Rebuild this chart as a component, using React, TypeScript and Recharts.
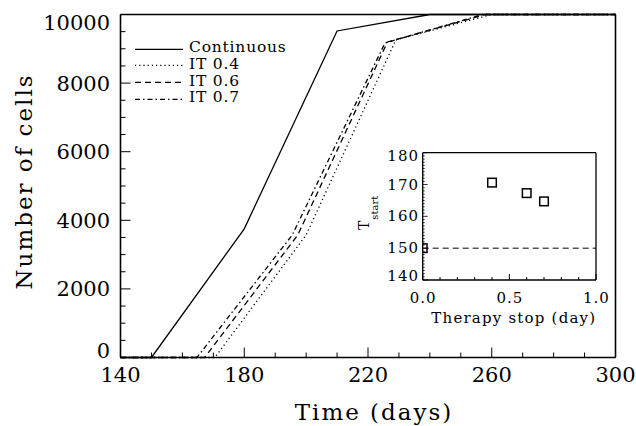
import React from "react";
import {
  LineChart,
  Line,
  XAxis,
  YAxis,
  Legend,
  Label,
  ScatterChart,
  Scatter,
  ReferenceLine,
} from "recharts";

const FONT = "'DejaVu Serif', serif";
const INK = "#000";

// main panel: number of cells vs time (days)
const CONTINUOUS = [
  { t: 140, n: 0 },
  { t: 150, n: 0 },
  { t: 180, n: 3750 },
  { t: 210, n: 9520 },
  { t: 240, n: 10000 },
  { t: 300, n: 10000 },
];
const IT_04 = [
  { t: 140, n: 0 },
  { t: 170.5, n: 0 },
  { t: 200, n: 3570 },
  { t: 229, n: 9260 },
  { t: 260, n: 10000 },
  { t: 300, n: 10000 },
];
const IT_06 = [
  { t: 140, n: 0 },
  { t: 167.2, n: 0 },
  { t: 197.3, n: 3570 },
  { t: 226.3, n: 9200 },
  { t: 258, n: 10000 },
  { t: 300, n: 10000 },
];
const IT_07 = [
  { t: 140, n: 0 },
  { t: 164.7, n: 0 },
  { t: 195.5, n: 3570 },
  { t: 225.5, n: 9170 },
  { t: 257, n: 10000 },
  { t: 300, n: 10000 },
];

const SERIES = [
  { name: "Continuous", data: CONTINUOUS, dash: undefined as string | undefined },
  { name: "IT 0.4", data: IT_04, dash: "1.2 3" },
  { name: "IT 0.6", data: IT_06, dash: "6 4" },
  { name: "IT 0.7", data: IT_07, dash: "5 3 1.5 3" },
];

const X_TICKS = [140, 150, 160, 170, 180, 190, 200, 210, 220, 230, 240, 250, 260, 270, 280, 290, 300];
const X_MAJOR = [140, 180, 220, 260, 300];
const Y_TICKS = [
  0, 500, 1000, 1500, 2000, 2500, 3000, 3500, 4000, 4500, 5000, 5500, 6000, 6500, 7000, 7500, 8000,
  8500, 9000, 9500, 10000,
];
const Y_MAJOR = [0, 2000, 4000, 6000, 8000, 10000];

// inset: start time vs therapy stop
const INSET_STOP = [0, 0.4, 0.6, 0.7];
const INSET_TSTART = [150, 170.6, 167.3, 164.7];
const CONTINUOUS_START = 150;
const INSET_X_TICKS = [0, 0.1, 0.2, 0.3, 0.4, 0.5, 0.6, 0.7, 0.8, 0.9, 1.0];
const INSET_X_LABELS = ["0.0", "0.5", "1.0"];
const INSET_Y_TICKS = Array.from({ length: 41 }, (_, i) => 140 + i);
const INSET_Y_MAJOR = [140, 150, 160, 170, 180];

const insetPoints = INSET_STOP.map((s, i) => ({ stop: s, tstart: INSET_TSTART[i] }));

const axisLine = { stroke: INK, strokeWidth: 1.6 };

const BottomTick = (p: any) => {
  const v = p.payload.value;
  const major = X_MAJOR.includes(v);
  return (
    <g>
      <line x1={p.x} x2={p.x} y1={p.y} y2={p.y - (major ? 10 : 5)} stroke={INK} strokeWidth={1} />
      {major && (
        <text x={p.x} y={p.y + 24.5} textAnchor="middle" fontSize={21} fontFamily={FONT} fill={INK}>
          {v}
        </text>
      )}
    </g>
  );
};

const TopTick = (p: any) => {
  const major = X_MAJOR.includes(p.payload.value);
  return <line x1={p.x} x2={p.x} y1={p.y} y2={p.y + (major ? 10 : 5)} stroke={INK} strokeWidth={1} />;
};

const LeftTick = (p: any) => {
  const v = p.payload.value;
  const major = Y_MAJOR.includes(v);
  const shift = v === 0 ? -7.5 : v === 10000 ? 8 : 0;
  return (
    <g>
      <line x1={p.x} x2={p.x + (major ? 10 : 5)} y1={p.y} y2={p.y} stroke={INK} strokeWidth={1} />
      {major && (
        <text x={p.x - 10.5} y={p.y + 7.5 + shift} textAnchor="end" fontSize={21} fontFamily={FONT} fill={INK}>
          {v}
        </text>
      )}
    </g>
  );
};

const RightTick = (p: any) => {
  const major = Y_MAJOR.includes(p.payload.value);
  return <line x1={p.x} x2={p.x - (major ? 10 : 5)} y1={p.y} y2={p.y} stroke={INK} strokeWidth={1} />;
};

const isHalf = (v: number) => Math.abs(v * 2 - Math.round(v * 2)) < 1e-6;

const InsetBottomTick = (p: any) => {
  const v = p.payload.value;
  const major = isHalf(v);
  return (
    <g>
      <line x1={p.x} x2={p.x} y1={p.y} y2={p.y - (major ? 6 : 3)} stroke={INK} strokeWidth={1} />
      {major && (
        <text
          x={p.x + 0.5}
          y={p.y + 23}
          textAnchor="middle"
          fontSize={15}
          letterSpacing={1}
          fontFamily={FONT}
          fill={INK}
        >
          {INSET_X_LABELS[Math.round(v * 2)]}
        </text>
      )}
    </g>
  );
};

const InsetTopTick = (p: any) => {
  const major = isHalf(p.payload.value);
  return <line x1={p.x} x2={p.x} y1={p.y} y2={p.y + (major ? 6 : 3)} stroke={INK} strokeWidth={1} />;
};

const InsetLeftTick = (p: any) => {
  const v = p.payload.value;
  const major = INSET_Y_MAJOR.includes(v);
  const shift = v === 140 ? -4 : v === 180 ? 3 : 0;
  return (
    <g>
      <line x1={p.x} x2={p.x + (major ? 5 : 2)} y1={p.y} y2={p.y} stroke={INK} strokeWidth={0.8} />
      {major && (
        <text
          x={p.x - 3.7}
          y={p.y + 5 + shift}
          textAnchor="end"
          fontSize={15}
          letterSpacing={1}
          fontFamily={FONT}
          fill={INK}
        >
          {v}
        </text>
      )}
    </g>
  );
};

const InsetRightTick = (p: any) => {
  const major = INSET_Y_MAJOR.includes(p.payload.value);
  return <line x1={p.x} x2={p.x - (major ? 5 : 2)} y1={p.y} y2={p.y} stroke={INK} strokeWidth={0.8} />;
};

const Square = (p: any) => (
  <rect x={p.cx - 4.3} y={p.cy - 4.3} width={8.6} height={8.6} fill="none" stroke={INK} strokeWidth={1.5} />
);

const renderLegend = (props: any) => (
  <div style={{ fontFamily: FONT, fontSize: 15.5, letterSpacing: 0.8, color: INK }}>
    {(props.payload || []).map((entry: any) => {
      const s = SERIES.find((d) => d.name === entry.value);
      return (
        <div key={entry.value} style={{ display: "flex", alignItems: "center", height: 16.7 }}>
          <svg width={50} height={16.7} style={{ display: "block" }}>
            <line x1={2} x2={50} y1={8.35} y2={8.35} stroke={INK} strokeWidth={1.3} strokeDasharray={s?.dash} />
          </svg>
          <span style={{ marginLeft: 6, position: "relative", top: -1.5, whiteSpace: "nowrap", lineHeight: "16.7px" }}>
            {entry.value}
          </span>
        </div>
      );
    })}
  </div>
);

const XTitle = (p: any) => {
  const vb = p.viewBox;
  return (
    <text x={vb.x + vb.width / 2 + 6} y={vb.y + 62.5} textAnchor="middle" fontSize={23} letterSpacing={2} fontFamily={FONT} fill={INK}>
      Time (days)
    </text>
  );
};

const YTitle = (p: any) => {
  const vb = p.viewBox;
  const x = vb.x + vb.width - 88.8;
  const y = vb.y + vb.height / 2 - 4.5;
  return (
    <text x={x} y={y} transform={`rotate(-90 ${x} ${y})`} textAnchor="middle" fontSize={23} letterSpacing={2} fontFamily={FONT} fill={INK}>
      Number of cells
    </text>
  );
};

const InsetXTitle = (p: any) => {
  const vb = p.viewBox;
  return (
    <text x={vb.x + vb.width / 2 + 4.5} y={vb.y + 42.7} textAnchor="middle" fontSize={15} letterSpacing={1.2} fontFamily={FONT} fill={INK}>
      Therapy stop (day)
    </text>
  );
};

const InsetYTitle = (p: any) => {
  const vb = p.viewBox;
  const x = vb.x + vb.width - 53.4;
  const y = vb.y + 77.3;
  return (
    <text x={x} y={y} transform={`rotate(-90 ${x} ${y})`} textAnchor="start" fontFamily={FONT} fill={INK}>
      <tspan fontSize={14}>T</tspan>
      <tspan fontSize={10} dy={9} dx={1}>
        start
      </tspan>
    </text>
  );
};

export default function App() {
  return (
    <div style={{ position: "absolute", left: 0, top: 0, width: 636, height: 426, background: "#fff" }}>
      <LineChart width={636} height={426} margin={{ top: 13.5, right: 19.5, bottom: 67.5, left: 119.5 }}>
        <XAxis
          type="number"
          dataKey="t"
          domain={[140, 300]}
          ticks={X_TICKS}
          interval={0}
          height={1}
          tickSize={0}
          tickMargin={0}
          tickLine={false}
          axisLine={axisLine}
          tick={(p: any) => <BottomTick {...p} />}
          label={<Label content={XTitle} />}
        />
        <XAxis
          xAxisId="top"
          orientation="top"
          type="number"
          dataKey="t"
          domain={[140, 300]}
          ticks={X_TICKS}
          interval={0}
          height={1}
          tickSize={0}
          tickMargin={0}
          tickLine={false}
          axisLine={axisLine}
          tick={(p: any) => <TopTick {...p} />}
        />
        <YAxis
          type="number"
          domain={[0, 10000]}
          ticks={Y_TICKS}
          interval={0}
          width={1}
          tickSize={0}
          tickMargin={0}
          tickLine={false}
          axisLine={axisLine}
          tick={(p: any) => <LeftTick {...p} />}
          label={<Label content={YTitle} />}
        />
        <YAxis
          yAxisId="right"
          orientation="right"
          type="number"
          domain={[0, 10000]}
          ticks={Y_TICKS}
          interval={0}
          width={1}
          tickSize={0}
          tickMargin={0}
          tickLine={false}
          axisLine={axisLine}
          tick={(p: any) => <RightTick {...p} />}
        />
        <Legend
          layout="vertical"
          align="center"
          verticalAlign="middle"
          wrapperStyle={{ left: 133, top: 40.65, width: "auto" }}
          content={renderLegend}
        />
        {SERIES.map((s) => (
          <Line
            key={s.name}
            name={s.name}
            data={s.data}
            dataKey="n"
            type="linear"
            stroke={INK}
            strokeWidth={1.3}
            strokeDasharray={s.dash}
            dot={false}
            activeDot={false}
            isAnimationActive={false}
          />
        ))}
      </LineChart>

      <div style={{ position: "absolute", left: 350, top: 140 }}>
        <ScatterChart width={260} height={200} margin={{ top: 11.7, right: 13, bottom: 59, left: 71.7 }}>
          <XAxis
            type="number"
            dataKey="stop"
            domain={[0, 1]}
            allowDataOverflow
            ticks={INSET_X_TICKS}
            interval={0}
            height={1}
            tickSize={0}
            tickMargin={0}
            tickLine={false}
            axisLine={{ stroke: INK, strokeWidth: 1.3 }}
            tick={(p: any) => <InsetBottomTick {...p} />}
            label={<Label content={InsetXTitle} />}
          />
          <XAxis
            xAxisId="top"
            orientation="top"
            type="number"
            dataKey="stop"
            domain={[0, 1]}
            ticks={INSET_X_TICKS}
            interval={0}
            height={1}
            tickSize={0}
            tickMargin={0}
            tickLine={false}
            axisLine={{ stroke: INK, strokeWidth: 1.3 }}
            tick={(p: any) => <InsetTopTick {...p} />}
          />
          <YAxis
            type="number"
            dataKey="tstart"
            domain={[140, 180]}
            allowDataOverflow
            ticks={INSET_Y_TICKS}
            interval={0}
            width={1}
            tickSize={0}
            tickMargin={0}
            tickLine={false}
            axisLine={{ stroke: INK, strokeWidth: 1.3 }}
            tick={(p: any) => <InsetLeftTick {...p} />}
            label={<Label content={InsetYTitle} />}
          />
          <YAxis
            yAxisId="right"
            orientation="right"
            type="number"
            dataKey="tstart"
            domain={[140, 180]}
            ticks={INSET_Y_TICKS}
            interval={0}
            width={1}
            tickSize={0}
            tickMargin={0}
            tickLine={false}
            axisLine={{ stroke: INK, strokeWidth: 1.3 }}
            tick={(p: any) => <InsetRightTick {...p} />}
          />
          <ReferenceLine y={CONTINUOUS_START} stroke={INK} strokeWidth={1} strokeDasharray="6 4" />
          <Scatter data={insetPoints} shape={Square} isAnimationActive={false} />
        </ScatterChart>
      </div>
    </div>
  );
}
